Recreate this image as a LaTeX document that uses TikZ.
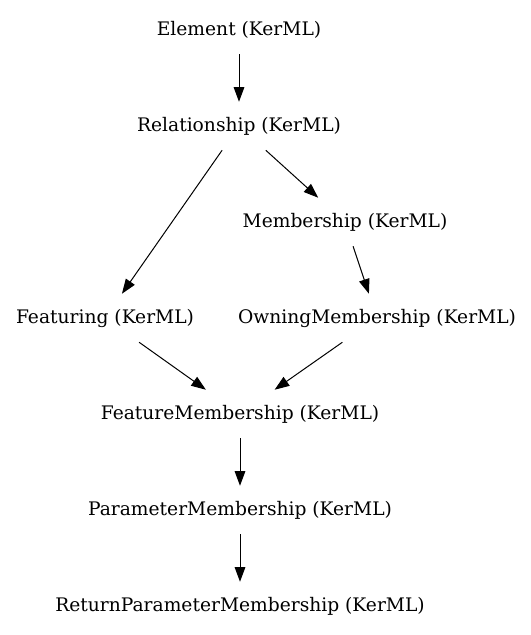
\documentclass[tikz,border=0pt]{standalone}
\usepackage{fontspec}
\setmainfont{DejaVu Serif}
\usetikzlibrary{arrows.meta}
\begin{document}
\begin{tikzpicture}[x=1pt,y=1pt,
  box/.style={rectangle,draw=none,minimum height=36pt,inner xsep=6pt,font=\fontsize{14pt}{16pt}\selectfont},
  edge/.style={draw=black,line width=0.75pt,-{Triangle[length=11pt,width=8pt]}}]
\useasboundingbox (0,0) rectangle (398.25,-476.25);
\node[box] (el) at (179.25,-22.5) {Element (KerML)};
\node[box] (rel) at (179.25,-94.5) {Relationship (KerML)};
\node[box] (mem) at (258.75,-166.5) {Membership (KerML)};
\node[box] (fea) at (78.75,-238.5) {Featuring (KerML)};
\node[box] (own) at (282.75,-238.5) {OwningMembership (KerML)};
\node[box] (fm) at (180,-310.5) {FeatureMembership (KerML)};
\node[box] (pm) at (180,-382.5) {ParameterMembership (KerML)};
\node[box] (rpm) at (180,-454.5) {ReturnParameterMembership (KerML)};
\draw[edge] (el) -- (rel);
\draw[edge] (rel) -- (fea);
\draw[edge] (rel) -- (mem);
\draw[edge] (mem) -- (own);
\draw[edge] (fea) -- (fm);
\draw[edge] (own) -- (fm);
\draw[edge] (fm) -- (pm);
\draw[edge] (pm) -- (rpm);
\end{tikzpicture}
\end{document}
